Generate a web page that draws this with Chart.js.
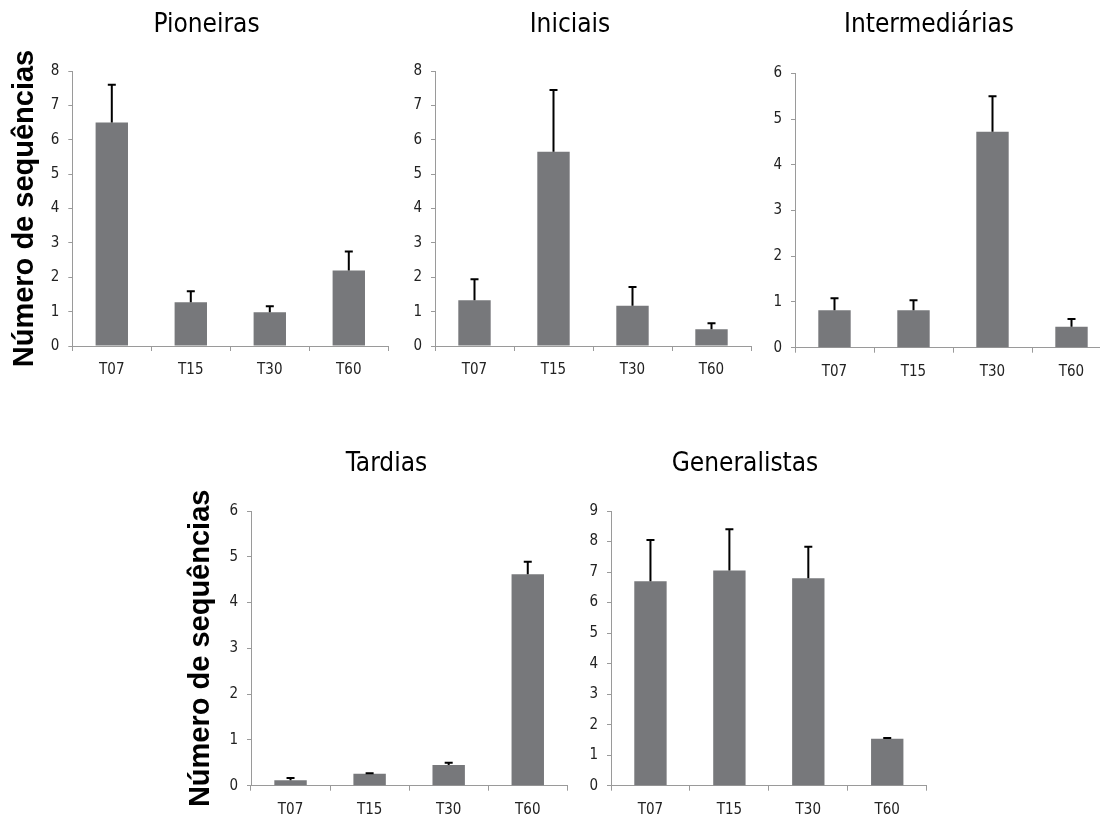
<!DOCTYPE html>
<html>
<head>
<meta charset="utf-8">
<script src="https://cdn.jsdelivr.net/npm/chart.js@4.4.1/dist/chart.umd.min.js"></script>
<style>
  html, body { margin:0; padding:0; background:#fff; overflow:hidden; width:1100px; height:819px; }
  canvas { position:absolute; }
</style>
</head>
<body>
<canvas id="c1"></canvas>
<canvas id="c2"></canvas>
<canvas id="c3"></canvas>
<canvas id="c4"></canvas>
<canvas id="c5"></canvas>
<script>
// ---------- DATA ----------
const categories = ['T07', 'T15', 'T30', 'T60'];
const titles = ['Pioneiras', 'Iniciais', 'Intermediárias', 'Tardias', 'Generalistas'];
const yAxisLabel = 'Número de sequências';

const pioneiras      = [6.5, 1.27, 0.98, 2.2];
const pioneirasErr   = [1.1, 0.32, 0.18, 0.55];
const iniciais       = [1.33, 5.65, 1.17, 0.49];
const iniciaisErr    = [0.61, 1.8, 0.55, 0.17];
const intermediarias    = [0.82, 0.82, 4.72, 0.46];
const intermediariasErr = [0.26, 0.22, 0.78, 0.17];
const tardias        = [0.12, 0.26, 0.45, 4.62];
const tardiasErr     = [0.05, 0.01, 0.05, 0.27];
const generalistas   = [6.7, 7.05, 6.8, 1.54];
const generalistasErr= [1.35, 1.35, 1.03, 0.02];

const yMaxes = [8, 8, 6, 6, 9];

// ---------- LAYOUT (positions / sizes only) ----------
const layouts = [
  {L:0,   T:0,   W:413,   H:400, yW:72.3, rW:24.7, titleTop:10.1, titleBottom:29.7, xH:54,   yTitle:true,  yTitlePad:7.6},
  {L:380, T:0,   W:380,   H:400, yW:55,   rW:9,    titleTop:10.1, titleBottom:29.7, xH:54,   yTitle:false},
  {L:740, T:0,   W:378,   H:400, yW:55,   rW:7,    titleTop:10.1, titleBottom:32.0, xH:52.3, yTitle:false},
  {L:170, T:440, W:433.4, H:379, yW:81,   rW:35.7, titleTop:9.1,  titleBottom:30.7, xH:33.3, yTitle:true,  yTitlePad:13.6},
  {L:560, T:440, W:370,   H:379, yW:51,   rW:3.3,  titleTop:9.1,  titleBottom:30.7, xH:33.3, yTitle:false}
];

const seriesValues = [pioneiras, iniciais, intermediarias, tardias, generalistas];
const seriesErrors = [pioneirasErr, iniciaisErr, intermediariasErr, tardiasErr, generalistasErr];

const narrow = "'Liberation Sans Narrow', 'Arial Narrow', 'DejaVu Sans Condensed', sans-serif";
const barColor = '#77787b';
const axisColor = '#9a9a9a';
const tickColor = '#222';

const errorBarsPlugin = {
  id: 'errorBars',
  afterDatasetsDraw(chart) {
    const ds = chart.data.datasets[0];
    const meta = chart.getDatasetMeta(0);
    const ys = chart.scales.y;
    const ctx = chart.ctx;
    ctx.save();
    ctx.strokeStyle = '#000';
    ctx.lineWidth = 2;
    meta.data.forEach((bar, i) => {
      const top = ys.getPixelForValue(ds.data[i] + ds.errors[i]);
      ctx.beginPath();
      ctx.moveTo(bar.x, bar.y);
      ctx.lineTo(bar.x, top);
      ctx.moveTo(bar.x - 4, top);
      ctx.lineTo(bar.x + 4, top);
      ctx.stroke();
    });
    ctx.restore();
  }
};

layouts.forEach((lay, idx) => {
  const cv = document.getElementById('c' + (idx + 1));
  cv.width = Math.round(lay.W);
  cv.height = lay.H;
  cv.style.left = lay.L + 'px';
  cv.style.top = lay.T + 'px';
  cv.style.width = Math.round(lay.W) + 'px';
  cv.style.height = lay.H + 'px';

  new Chart(cv, {
    type: 'bar',
    data: {
      labels: categories,
      datasets: [{
        data: seriesValues[idx],
        errors: seriesErrors[idx],
        backgroundColor: barColor,
        borderWidth: 0,
        categoryPercentage: 1.0,
        barPercentage: 0.41
      }]
    },
    options: {
      responsive: false,
      animation: false,
      devicePixelRatio: 1,
      layout: { padding: 0 },
      plugins: {
        legend: { display: false },
        tooltip: { enabled: false },
        title: {
          display: true,
          text: titles[idx],
          color: '#000',
          font: { family: narrow, size: 26, weight: 'normal', lineHeight: 1.2 },
          padding: { top: lay.titleTop, bottom: lay.titleBottom }
        }
      },
      scales: {
        x: {
          offset: true,
          grid: { display: true, drawOnChartArea: false, drawTicks: true, tickLength: 5, color: axisColor, offset: true },
          border: { display: true, color: axisColor, width: 1 },
          ticks: { color: tickColor, font: { family: narrow, size: 15 }, padding: 10, maxRotation: 0 },
          afterFit(s) { s.height = lay.xH; }
        },
        y: {
          min: 0,
          max: yMaxes[idx],
          ticks: { stepSize: 1, color: tickColor, font: { family: narrow, size: 15 }, padding: 9 },
          grid: { display: true, drawOnChartArea: false, drawTicks: true, tickLength: 4, color: axisColor },
          border: { display: true, color: axisColor, width: 1 },
          title: {
            display: lay.yTitle,
            text: yAxisLabel,
            color: '#000',
            font: { family: "'Liberation Sans', Arial, sans-serif", size: 29, weight: 'bold', lineHeight: 1.2 },
            padding: { top: lay.yTitlePad || 0, bottom: 0 }
          },
          afterFit(s) { s.width = lay.yW; }
        },
        yr: {
          type: 'linear',
          position: 'right',
          display: true,
          grid: { display: false },
          border: { display: false },
          ticks: { display: false },
          afterFit(s) { s.width = lay.rW; }
        }
      }
    },
    plugins: [errorBarsPlugin]
  });
});
</script>
</body>
</html>
